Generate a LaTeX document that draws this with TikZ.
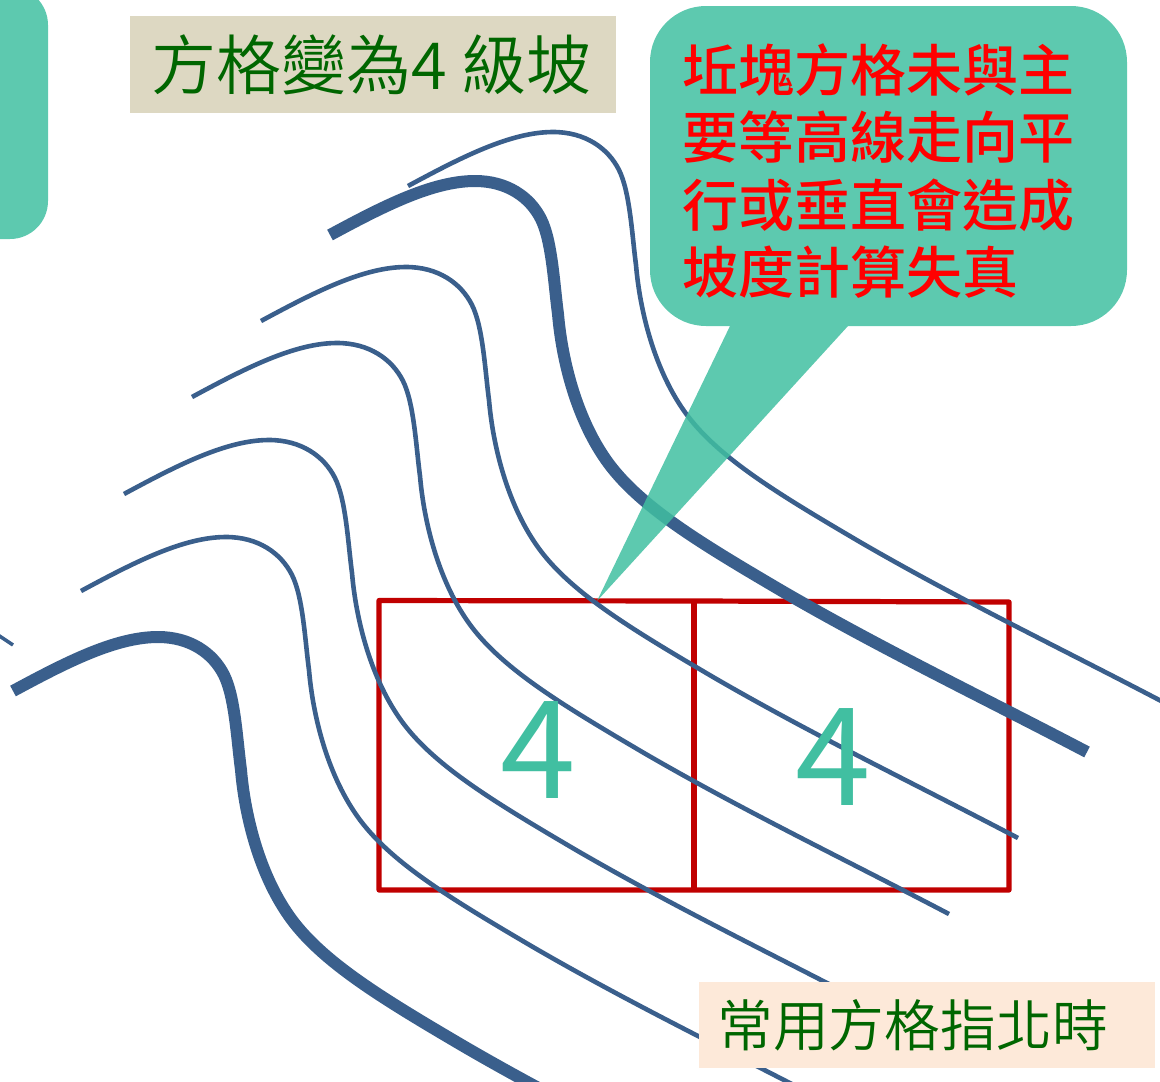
\documentclass[tikz,border=0pt]{standalone}
\usepackage{fontspec}
\setmainfont{Noto Sans CJK TC}
\newfontfamily\lightcjk{Noto Sans CJK TC DemiLight}
\newfontfamily\mediumcjk{Noto Sans CJK TC Medium}
\definecolor{calloutgreen}{RGB}{65,191,161}
\definecolor{contourblue}{RGB}{58,95,140}
\definecolor{gridred}{RGB}{192,0,0}
\definecolor{labelgreen}{RGB}{0,102,0}
\definecolor{titlebg}{RGB}{221,216,194}
\definecolor{notebg}{RGB}{253,233,217}
\newcommand{\contourpath}{(408,186) .. controls (460,158) and (510,132) .. (553,132)
 .. controls (585,132) and (608,148) .. (619,170)
 .. controls (630,192) and (632,235) .. (636,265)
 .. controls (640,312) and (655,372) .. (687,415)
 .. controls (720,459) and (780,495) .. (860,542)
 .. controls (960,600) and (1060,648) .. (1165,703)}
\tikzset{
  x=1pt,y=-1pt,
  thincontour/.style={draw=contourblue,line width=4.6pt},
  thickcontour/.style={draw=contourblue,line width=12pt},
  gridline/.style={draw=gridred,line width=5.2pt,line join=round},
  calloutshape/.style={fill=calloutgreen,fill opacity=0.85},
  cornerbox/.style={fill=calloutgreen,fill opacity=0.85},
  labelbox/.style={inner sep=0pt,text=labelgreen},
  slopedigit/.style={text=calloutgreen,inner sep=0pt,font=\fontsize{136}{136}\selectfont,xscale=1.0},
  warntext/.style={text=red,inner sep=0pt,align=left,font=\mediumcjk\fontsize{56}{67.5}\selectfont},
}
\begin{document}
\begin{tikzpicture}
\useasboundingbox (0,0) rectangle (1160,1082);
\clip (0,0) rectangle (1160,1082);
% square grid
\draw[gridline] (379,600.5) -- (693.5,601) -- (1009,602) -- (1009,890) -- (379,890) -- cycle;
\draw[gridline,line width=6pt] (693.5,601) -- (693.5,890);
% contour lines
\path[thincontour] \contourpath;
\path[thickcontour,shift={(-78,49)}] \contourpath;
\path[thincontour,shift={(-147,135)}] \contourpath;
\path[thincontour,shift={(-216,211)}] \contourpath;
\path[thincontour,shift={(-284,308)}] \contourpath;
\path[thincontour,shift={(-327,405)}] \contourpath;
\path[thickcontour,shift={(-395,505)}] \contourpath;
\path[thincontour,line width=3.5pt] (-2,635) -- (13,645);
% digits in the squares
\node[slopedigit] (digitA) at (538,750) {4};
\node[slopedigit] (digitB) at (833,757) {4};
% callout
\path[calloutshape] (706,6) -- (1071,6) arc[start angle=-90,end angle=0,radius=56]
  -- (1127,270) arc[start angle=0,end angle=90,radius=56]
  -- (848,326) -- (597,601) -- (730,326) -- (706,326)
  arc[start angle=90,end angle=180,radius=56] -- (650,62)
  arc[start angle=180,end angle=270,radius=56] -- cycle;
\node[warntext,anchor=north west] (warning) at (682,43) {坵塊方格未與主\\要等高線走向平\\行或垂直會造成\\坡度計算失真};
% partial box at the left edge
\path[cornerbox] (-60,-13) -- (10,-13) arc[start angle=-90,end angle=0,radius=38]
  -- (48,201) arc[start angle=0,end angle=90,radius=38] -- (-60,239) -- cycle;
% labels
\node[labelbox,fill=titlebg,minimum width=486pt,minimum height=97pt,font=\lightcjk\fontsize{65}{65}\selectfont] (title) at (373,64.5) {\hspace*{-3pt}方格變為4 級坡};
\node[labelbox,fill=notebg,minimum width=456pt,minimum height=86pt,font=\lightcjk\fontsize{55.8}{60}\selectfont] (note) at (927,1025) {\hspace*{-29pt}常用方格指北時};
\end{tikzpicture}
\end{document}
